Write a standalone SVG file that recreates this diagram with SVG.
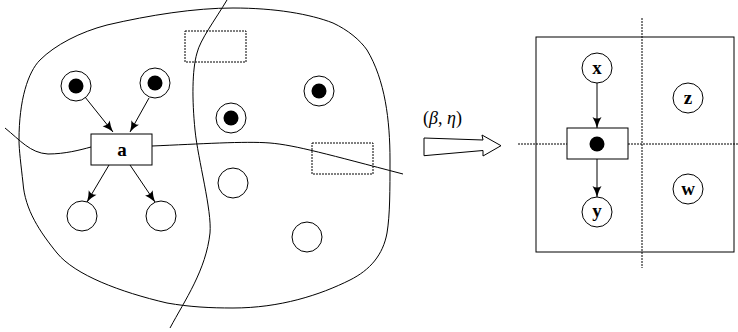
<svg xmlns="http://www.w3.org/2000/svg" width="738" height="332" viewBox="0 0 738 332">
<style>
.ln{fill:none;stroke:#000;stroke-width:1}
.dash{fill:none;stroke:#000;stroke-width:1;stroke-dasharray:2,1}
.nd{fill:#fff;stroke:#000;stroke-width:1}
.dot{fill:#000}
.lbl{font-family:"Liberation Serif",serif;font-weight:bold;font-size:19px;text-anchor:middle}
.math{font-family:"Liberation Serif",serif;font-size:18px;fill:#000}
.ar{fill:none;stroke:#000;stroke-width:1;marker-end:url(#ah)}
</style>
<defs>
<marker id="ah" markerUnits="userSpaceOnUse" markerWidth="12" markerHeight="10" refX="11" refY="4.5" orient="auto" overflow="visible">
<path d="M0,0 Q5,3 11,4.5 Q5,6 0,9 Q3,4.5 0,0 Z" fill="#000"/>
</marker>
</defs>
<g id="region">
<path class="ln" d="M19,140 C19,100 28,72 40,60 C55,45 80,32 107,25 C150,15 195,8 233,8 C275,8 310,14 333,23 C348,30 360,40 367,50 C385,80 390,120 390,160 C390,190 390,215 387,233 C383,255 370,270 350,280 C320,295 280,308 233,308 C210,308 190,307 167,303 C120,292 75,275 57,253 C40,232 25,210 23,183 C21,165 19,150 19,140 Z"/>
<path class="ln" d="M227,0 C215,20 200,40 197,53 C192,70 192,100 195,130 C198,160 212,210 210,233 C206,270 185,300 170,328"/>
<path class="ln" d="M5,128 C20,140 30,153 48,154 C65,154 80,150 91,147"/>
<path class="ln" d="M152,146 C200,144 245,141 270,143 C295,145 330,155 403,174"/>
</g>
<g id="dashbox1"><rect class="dash" x="185" y="31" width="61" height="31"/></g>
<g id="dashbox2"><rect class="dash" x="312" y="143" width="61" height="31"/></g>
<g id="o1"><circle class="nd" cx="76" cy="86" r="15"/><circle class="dot" cx="76" cy="86" r="7.5"/></g>
<g id="o2"><circle class="nd" cx="155" cy="83" r="15"/><circle class="dot" cx="155" cy="83" r="7.5"/></g>
<g id="o3"><circle class="nd" cx="231" cy="118" r="15"/><circle class="dot" cx="231" cy="118" r="7.5"/></g>
<g id="o4"><circle class="nd" cx="319" cy="91" r="15"/><circle class="dot" cx="319" cy="91" r="7.5"/></g>
<g id="a"><rect class="nd" x="91" y="134" width="61" height="31"/><text class="lbl" x="122" y="156">a</text></g>
<g id="e1"><circle class="nd" cx="82" cy="216" r="15"/></g>
<g id="e2"><circle class="nd" cx="161" cy="216" r="15"/></g>
<g id="e3"><circle class="nd" cx="233" cy="183" r="15"/></g>
<g id="e4"><circle class="nd" cx="307" cy="237" r="15"/></g>
<g id="transform">
<polygon class="nd" points="424,138 483,140 482,135 501,145.7 483,156 483,150.5 424,155.7"/>
<text class="math" x="423" y="124"><tspan>(</tspan><tspan font-style="italic">β</tspan><tspan>, </tspan><tspan font-style="italic">η</tspan><tspan>)</tspan></text>
</g>
<g id="frame">
<rect class="ln" x="536" y="37" width="198" height="215"/>
<line class="dash" x1="642" y1="18" x2="642" y2="268"/>
<line class="dash" x1="518" y1="144" x2="567" y2="144"/>
<line class="dash" x1="628" y1="144" x2="738" y2="144"/>
</g>
<g id="f"><rect class="nd" x="567" y="128" width="61" height="31"/><circle class="dot" cx="597" cy="144" r="7.5"/></g>
<g id="x"><circle class="nd" cx="597" cy="68" r="15"/><text class="lbl" x="597" y="74">x</text></g>
<g id="y"><circle class="nd" cx="597" cy="212" r="15"/><text class="lbl" x="597" y="217">y</text></g>
<g id="z"><circle class="nd" cx="688" cy="98" r="15"/><text class="lbl" x="688" y="104">z</text></g>
<g id="w"><circle class="nd" cx="688" cy="189" r="15"/><text class="lbl" x="688" y="195">w</text></g>
<g id="connectors">
<line class="ar" x1="85" y1="97" x2="113" y2="132"/>
<line class="ar" x1="149" y1="98" x2="130" y2="132"/>
<line class="ar" x1="109" y1="165" x2="87" y2="202"/>
<line class="ar" x1="130" y1="165" x2="155" y2="202"/>
<line class="ar" x1="597" y1="83" x2="597" y2="128"/>
<line class="ar" x1="597" y1="159" x2="597" y2="197"/>
</g>
</svg>
